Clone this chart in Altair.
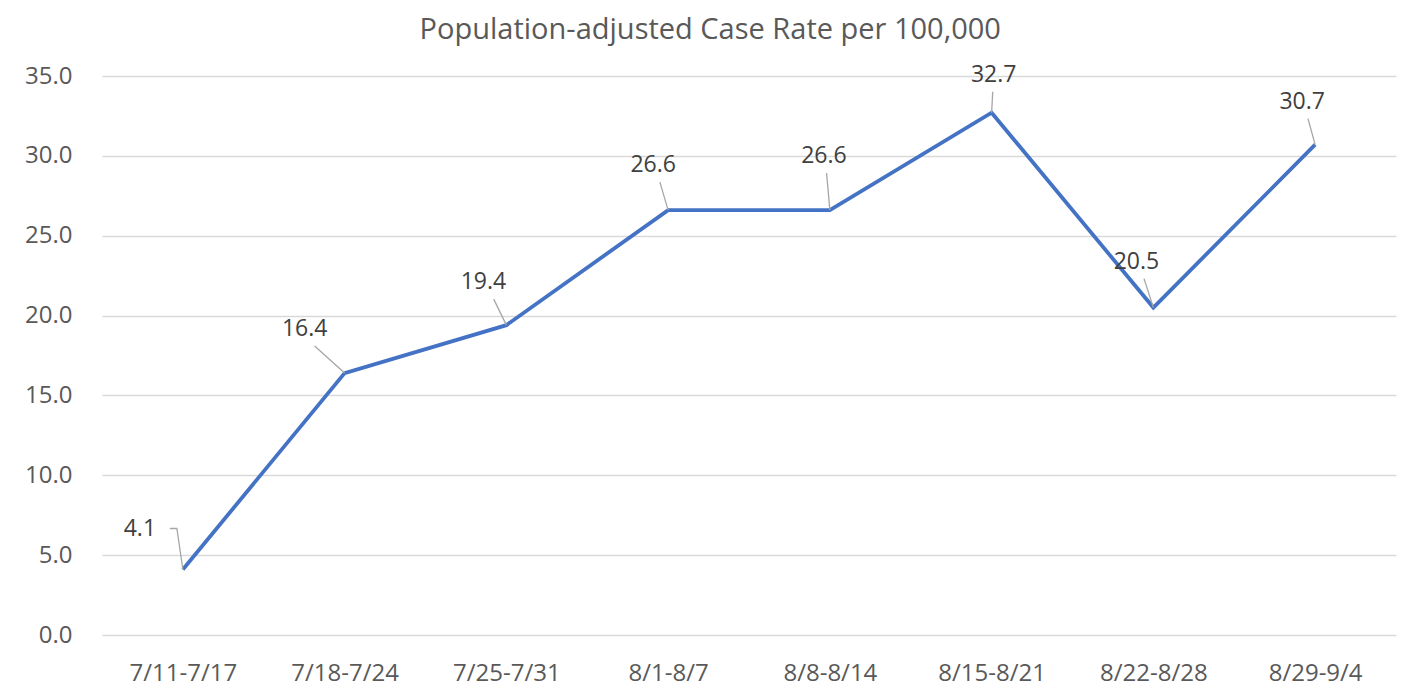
import altair as alt
import pandas as pd

weeks = ["7/11-7/17", "7/18-7/24", "7/25-7/31", "8/1-8/7", "8/8-8/14", "8/15-8/21", "8/22-8/28", "8/29-9/4"]
rates = [4.1, 16.4, 19.4, 26.6, 26.6, 32.7, 20.5, 30.7]
# label placement (pixel offsets of data labels, as in the original)
label_dx = [-43, -40, -23, -15, -6, 2, -17, -13]
label_dy = [-41, -44, -43, -45, -54, -38, -46, -43]

FONT = "Open Sans"
GREY = "#595959"

df = pd.DataFrame({"week": weeks, "rate": rates, "ldx": label_dx, "ldy": label_dy})
df["label"] = [f"{v:.1f}" for v in rates]
px_per_unit = 559 / 35
df["label_y"] = df["rate"] - df["ldy"] / px_per_unit

# leader lines: from point towards label
rows = []
for i, r in df.iterrows():
    rows.append({"week": r.week, "id": i, "o": 0, "y": r.rate, "off": 0.0})
    if i == 0:
        rows.append({"week": r.week, "id": i, "o": 1, "y": r.rate - r.ldy / px_per_unit, "off": -6.0})
        rows.append({"week": r.week, "id": i, "o": 2, "y": r.rate - r.ldy / px_per_unit, "off": -13.0})
    else:
        rows.append({"week": r.week, "id": i, "o": 1, "y": r.rate - (r.ldy + 17) / px_per_unit,
                     "off": r.ldx * 0.75 if r.ldx < -30 else r.ldx * 0.55})
lead = pd.DataFrame(rows)

xs = alt.Scale(type="point", padding=0.5)
x_enc = alt.X("week:N", sort=weeks, title=None, scale=xs,
              axis=alt.Axis(labelAngle=0, labelFont=FONT, labelFontSize=24, labelColor=GREY,
                            ticks=False, domain=False, labelPadding=26, grid=False))
y_scale = alt.Scale(domain=[0, 35])

base = alt.Chart(df)

line = base.mark_line(color="#4472C4", strokeWidth=3.8).encode(
    x=x_enc,
    y=alt.Y("rate:Q", scale=y_scale, title=None,
            axis=alt.Axis(values=[0, 5, 10, 15, 20, 25, 30, 35], format=".1f", labelFont=FONT,
                          labelFontSize=24, labelColor=GREY, ticks=False, domain=False,
                          labelPadding=30, gridColor="#d9d9d9", gridWidth=1.5)),
)

leaders = alt.Chart(lead).mark_line(color="#a6a6a6", strokeWidth=1.3).encode(
    x=alt.X("week:N", sort=weeks, scale=xs),
    xOffset=alt.XOffset("off:Q", scale=None),
    y=alt.Y("y:Q", scale=y_scale),
    detail="id:N",
    order="o:Q",
)

labels = base.mark_text(font=FONT, fontSize=23, color="#404040", baseline="middle").encode(
    x=alt.X("week:N", sort=weeks, scale=xs),
    xOffset=alt.XOffset("ldx:Q", scale=None),
    y=alt.Y("label_y:Q", scale=y_scale),
    text="label:N",
)

chart = alt.layer(line, leaders, labels).properties(
    width=1294, height=559,
    title=alt.Title("Population-adjusted Case Rate per 100,000", font=FONT, fontSize=29,
                    fontWeight="normal", color=GREY, anchor="middle", frame="bounds", offset=19),
    autosize=alt.AutoSizeParams(type="none"),
    padding={"left": 94, "top": 68, "right": 10, "bottom": 55},
).configure_view(stroke=None)

chart.save("out.html", embed_options={"renderer": "svg", "actions": False})
